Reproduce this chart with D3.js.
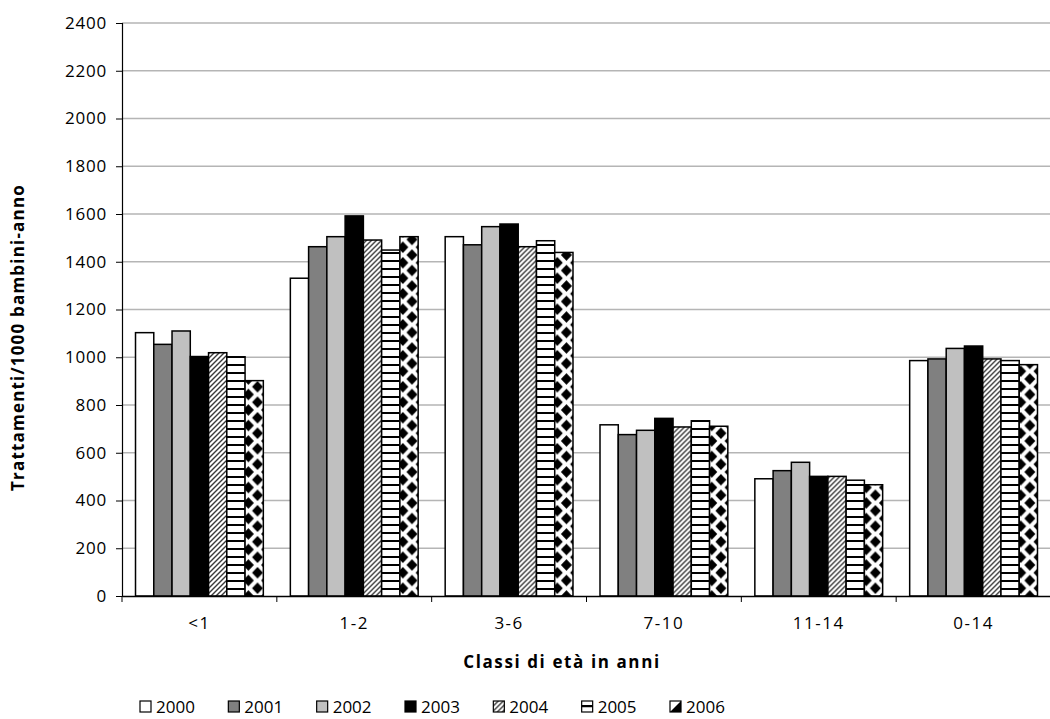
<!DOCTYPE html>
<html><head><meta charset="utf-8">
<script src="https://cdn.jsdelivr.net/npm/d3@7"></script>
<style>
body{margin:0;background:#fff}
svg{display:block}
text{font-family:"Open Sans","Liberation Sans",sans-serif;fill:#000}
</style>
</head><body>
<svg id="chart" width="1050" height="719"></svg>
<script>
// ---- data ----
const categories = ["<1", "1-2", "3-6", "7-10", "11-14", "0-14"];
const years = ["2000", "2001", "2002", "2003", "2004", "2005", "2006"];
const v2000 = [1103, 1331, 1505, 717, 491, 986];
const v2001 = [1054, 1463, 1471, 676, 525, 993];
const v2002 = [1110, 1505, 1547, 694, 560, 1037];
const v2003 = [1003, 1592, 1558, 744, 501, 1047];
const v2004 = [1019, 1491, 1463, 708, 501, 993];
const v2005 = [1002, 1449, 1488, 734, 485, 986];
const v2006 = [902, 1505, 1439, 711, 466, 969];
const yTickValues = [0, 200, 400, 600, 800, 1000, 1200, 1400, 1600, 1800, 2000, 2200, 2400];
const yTitle = "Trattamenti/1000 bambini-anno";
const xTitle = "Classi di età in anni";

const seriesValues = [v2000, v2001, v2002, v2003, v2004, v2005, v2006];

// ---- layout / style ----
const m = {left: 122, top: 23, right: 1051, bottom: 596};
const svg = d3.select("#chart");
const defs = svg.append("defs");

const x0 = d3.scaleBand().domain(categories).range([m.left, m.right]).paddingInner(0).paddingOuter(0);
const x1 = d3.scaleBand().domain(years).range([0, x0.bandwidth()]).paddingInner(0).paddingOuter(0.74);
const y = d3.scaleLinear().domain([0, 2400]).range([m.bottom, m.top]);

// patterns
const hatch = defs.append("pattern").attr("id", "hatch").attr("patternUnits", "userSpaceOnUse")
  .attr("width", 5).attr("height", 5);
hatch.append("rect").attr("width", 5).attr("height", 5).attr("fill", "#fff");
hatch.append("path").attr("d", "M-1.25,1.25 L1.25,-1.25 M0,5 L5,0 M3.75,6.25 L6.25,3.75")
  .attr("stroke", "#3a3a3a").attr("stroke-width", 1.4);

const hl = defs.append("pattern").attr("id", "hlines").attr("patternUnits", "userSpaceOnUse")
  .attr("width", 8).attr("height", 8).attr("y", y(0));
hl.append("rect").attr("width", 8).attr("height", 8).attr("fill", "#fff");
hl.append("rect").attr("y", 0).attr("width", 8).attr("height", 2).attr("fill", "#000");

const diamondPhase = [0, 0, 0.5, 0.5, 0, 0];
const bw = x1.bandwidth();
const P = 15.5;
function diamondPattern(id, px, py, w, phase) {
  const p = defs.append("pattern").attr("id", id).attr("patternUnits", "userSpaceOnUse")
    .attr("x", px - phase * w).attr("y", py).attr("width", w).attr("height", P);
  p.append("rect").attr("width", w).attr("height", P).attr("fill", "#fff");
  const a = w * 0.3, b = P * 0.38;
  const pts = [[w / 2, 0], [w / 2, P], [0, P / 2], [w, P / 2]];
  pts.forEach(([cx, cy]) => {
    p.append("path").attr("d", `M${cx - a},${cy} L${cx},${cy - b} L${cx + a},${cy} L${cx},${cy + b} Z`).attr("fill", "#000");
  });
}
categories.forEach((c, i) => diamondPattern("dia" + i, x0(c) + x1("2006"), y(0), bw, diamondPhase[i]));

const solidFills = {"2000": "#ffffff", "2001": "#808080", "2002": "#c0c0c0", "2003": "#000000", "2004": "url(#hatch)", "2005": "url(#hlines)"};
function fillFor(year, ci) {
  return year === "2006" ? `url(#dia${ci})` : solidFills[year];
}

// gridlines
svg.append("g").selectAll("line").data(yTickValues.filter(d => d > 0)).join("line")
  .attr("x1", m.left).attr("x2", m.right).attr("y1", d => y(d)).attr("y2", d => y(d))
  .attr("stroke", "#b5b5b5").attr("stroke-width", 1.3);

// bars
const groups = svg.append("g").selectAll("g").data(categories).join("g")
  .attr("transform", c => `translate(${x0(c)},0)`);
groups.selectAll("rect").data((c, ci) => years.map((yr, si) => ({yr, ci, v: seriesValues[si][ci]}))).join("rect")
  .attr("x", d => x1(d.yr)).attr("width", bw)
  .attr("y", d => y(d.v)).attr("height", d => y(0) - y(d.v))
  .attr("fill", d => fillFor(d.yr, d.ci))
  .attr("stroke", "#000").attr("stroke-width", 1.5);

// y axis
const yAxis = svg.append("g").attr("transform", `translate(${m.left},0)`)
  .call(d3.axisLeft(y).tickValues(yTickValues).tickSize(6).tickPadding(9).tickFormat(d3.format("d")));
yAxis.select(".domain").attr("stroke", "#000").attr("stroke-width", 1.2);
yAxis.selectAll(".tick line").attr("stroke", "#000");
yAxis.selectAll("text").attr("font-size", 17).attr("font-family", "'Open Sans',sans-serif").attr("fill", "#000")
  .attr("letter-spacing", 0.8);

// x axis
const xAxis = svg.append("g").attr("transform", `translate(0,${m.bottom})`)
  .call(d3.axisBottom(x0).tickSize(0).tickPadding(21));
xAxis.select(".domain").attr("stroke", "#000").attr("stroke-width", 1.5);
xAxis.selectAll("text").attr("font-size", 17).attr("font-family", "'Open Sans',sans-serif").attr("fill", "#000")
  .attr("letter-spacing", 1.5);
// boundary ticks
const bounds = categories.map(c => x0(c)).concat([m.right]);
svg.append("g").selectAll("line").data(bounds).join("line")
  .attr("x1", d => d).attr("x2", d => d).attr("y1", m.bottom).attr("y2", m.bottom + 6)
  .attr("stroke", "#000").attr("stroke-width", 1);

// titles
svg.append("text").attr("x", 562).attr("y", 668).attr("text-anchor", "middle")
  .attr("font-size", 17).attr("font-weight", "bold").attr("letter-spacing", 1.6).text(xTitle);
svg.append("text").attr("transform", `translate(24,${(m.top + m.bottom) / 2 + 28}) rotate(-90)`)
  .attr("text-anchor", "middle").attr("font-size", 17).attr("font-weight", "bold").attr("letter-spacing", 1.2).text(yTitle);

// legend
const legX = d3.scalePoint().domain(years).range([140, 670]);
const leg = svg.append("g").selectAll("g").data(years).join("g")
  .attr("transform", d => `translate(${legX(d)},701)`);
leg.append("rect").attr("width", 11).attr("height", 11)
  .attr("fill", d => d === "2006" ? "#fff" : solidFills[d])
  .attr("stroke", "#000").attr("stroke-width", 1.2);
leg.filter(d => d === "2005").append("line").attr("x1", 0).attr("x2", 11).attr("y1", 5.5).attr("y2", 5.5)
  .attr("stroke", "#000").attr("stroke-width", 1.5);
leg.filter(d => d === "2006").append("path").attr("d", "M0,11 L11,0 L11,11 Z").attr("fill", "#000");
leg.filter(d => d === "2004").select("rect").attr("fill", "url(#hatch)");
leg.append("text").attr("x", 16).attr("y", 11.5).attr("font-size", 17).text(d => d);
</script>
</body></html>
